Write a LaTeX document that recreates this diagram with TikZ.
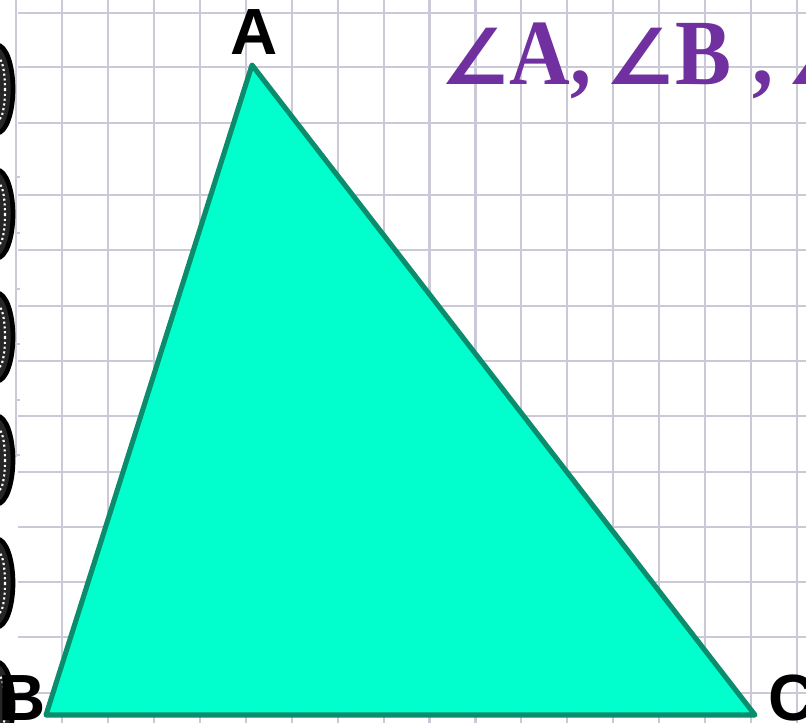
\documentclass[tikz,border=0pt]{standalone}
\usepackage{fontspec}
\usepackage{tikz}
\newfontfamily\labelfont{Liberation Sans}
\newfontfamily\titlefont[FakeStretch=0.9]{Liberation Serif}
\newfontfamily\anglefont{DejaVu Sans}
\definecolor{gridcol}{HTML}{CBC8D8}
\definecolor{trifill}{HTML}{00FFCC}
\definecolor{triedge}{HTML}{0B8C6C}
\definecolor{anglecol}{HTML}{7030A0}
\tikzset{
  gridline/.style={gridcol, line width=1.6},
  ring/.style={draw=black, fill=black!85, line width=3.5},
  ringdots/.style={white, dotted, line width=1.6},
  vertex/.style={font=\labelfont\bfseries\fontsize{49}{49}\selectfont, inner sep=0pt, anchor=base},
}
\newcommand{\angsign}{{\anglefont\fontsize{58}{58}\selectfont\char"2220}}

\begin{document}
\begin{tikzpicture}[x=0.75pt, y=-0.75pt]
    \useasboundingbox (0,0) rectangle (806,723);
    \clip (0,0) rectangle (806,723);
    % Paper and grid
    \fill[white] (0,0) rectangle (806,723);
    \foreach \gx in {0,...,16}
        \draw[gridline] ({62+45.94*\gx},0) -- ++(0,723);
    \foreach \gy in {13,67,123,195,250,306,361,416,472,527,582,637,693}
        \draw[gridline] (18,\gy) -- (806,\gy);
    \draw[gridline] (16,0) -- (16,457);
    \foreach \ty in {177,233,289,344,400,455}
        \draw[gridcol, line width=1] (16,\ty) -- ++(4,0);
    
    % Spiral binding
    \foreach \ry in {89,214,337,460,583,706} {
        \draw[ring] (-3,\ry) ellipse (16 and 44);
        \draw[ringdots] (-1,\ry) ellipse (6 and 30);
    }
    
    % Triangle
    \coordinate (A) at (252,65);
    \coordinate (B) at (46,715);
    \coordinate (C) at (755,715);
    \filldraw[fill=trifill, draw=triedge, line width=3.8, line join=round] (A) -- (B) -- (C) -- cycle;
    
    \node[vertex] (labelA) at (254,55) {A};
    \node[vertex] (labelB) at (22,720) {B};
    \node[vertex, anchor=base west] (labelC) at (768,720) {C};
    
    % Angles
    \node[anchor=base west, inner sep=0pt, text=anglecol,
          font=\titlefont\bfseries\fontsize{70}{70}\selectfont] (angles) at (440,85)
          {\angsign A,\hspace{11pt}\angsign B ,\hspace{10pt}\angsign};
\end{tikzpicture}
\end{document}
